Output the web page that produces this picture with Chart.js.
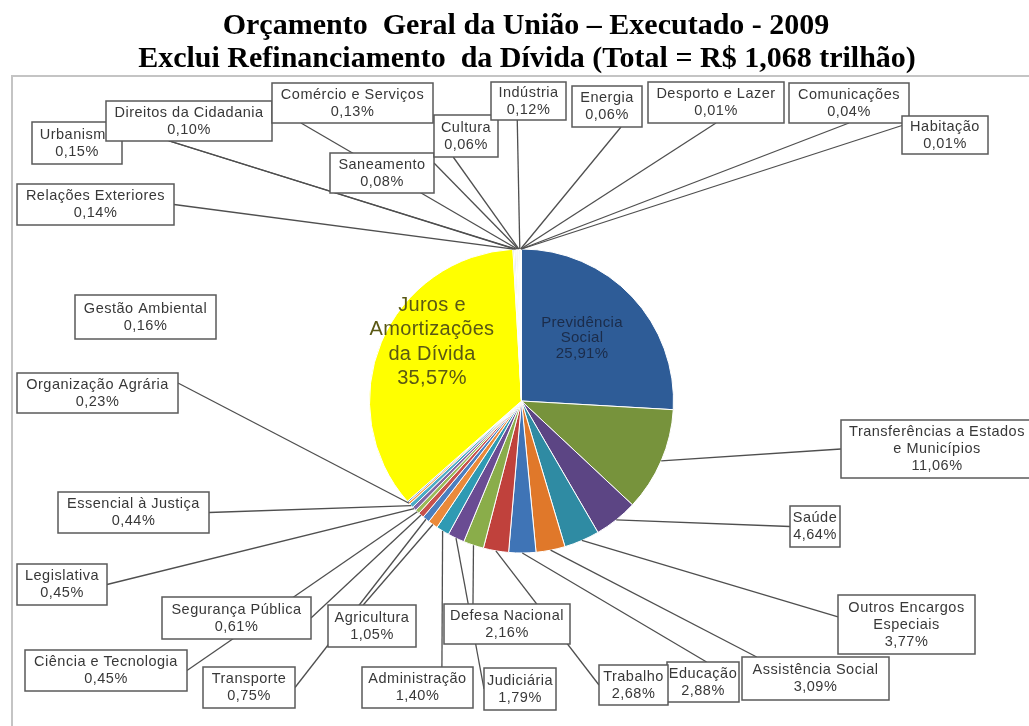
<!DOCTYPE html>
<html>
<head>
<meta charset="utf-8">
<script src="https://cdn.jsdelivr.net/npm/chart.js@4/dist/chart.umd.min.js"></script>
<style>
  html, body { margin: 0; padding: 0; background: #fff; }
  canvas { display: block; }
</style>
</head>
<body>
<canvas id="pie" width="1029" height="726"></canvas>
<script>
const titleLines = [
  'Orçamento  Geral da União – Executado - 2009',
  'Exclui Refinanciamento  da Dívida (Total = R$ 1,068 trilhão)'
];

// slices in drawing order, clockwise from 12 o'clock
const categories = [
  'Previdência Social', 'Transferências a Estados e Municípios', 'Saúde', 'Outros Encargos Especiais',
  'Assistência Social', 'Educação', 'Trabalho', 'Defesa Nacional', 'Judiciária', 'Administração',
  'Agricultura', 'Transporte', 'Segurança Pública', 'Ciência e Tecnologia', 'Legislativa',
  'Essencial à Justiça', 'Organização Agrária', 'Gestão Ambiental', 'Juros e Amortizações da Dívida',
  'Relações Exteriores', 'Urbanismo', 'Direitos da Cidadania', 'Comércio e Serviços', 'Saneamento',
  'Cultura', 'Indústria', 'Energia', 'Desporto e Lazer', 'Comunicações', 'Habitação'
];
const shares = [
  25.91, 11.06, 4.64, 3.77,
  3.09, 2.88, 2.68, 2.16, 1.79, 1.40,
  1.05, 0.75, 0.61, 0.45, 0.45,
  0.44, 0.23, 0.16, 35.57,
  0.14, 0.15, 0.10, 0.13, 0.08,
  0.06, 0.12, 0.06, 0.01, 0.04, 0.01
];
const sliceColors = [
  '#2e5c97', '#77933c', '#5c4584', '#2f8ba3',
  '#e0782a', '#3f74b6', '#c0413c', '#8aad4a', '#6a4c93', '#2f9ab3',
  '#ea8a3a', '#4b7fbf', '#c8514d', '#9bbb59', '#8064a2',
  '#4bacc6', '#f79646', '#6d8fc7', '#ffff00',
  '#b9c4d2', '#c9c9c9', '#aab8cc', '#cfcfcf', '#b4c0cf',
  '#c4c4c4', '#b0bccc', '#cccccc', '#bcc6d3', '#c6c6c6', '#b8c2d0'
];
// how each name breaks into lines in its label
const nameLines = [
  ['Previdência', 'Social'], ['Transferências a Estados', 'e Municípios'], ['Saúde'], ['Outros Encargos', 'Especiais'],
  ['Assistência Social'], ['Educação'], ['Trabalho'], ['Defesa Nacional'], ['Judiciária'], ['Administração'],
  ['Agricultura'], ['Transporte'], ['Segurança Pública'], ['Ciência e Tecnologia'], ['Legislativa'],
  ['Essencial à Justiça'], ['Organização Agrária'], ['Gestão Ambiental'], ['Juros e', 'Amortizações', 'da Dívida'],
  ['Relações Exteriores'], ['Urbanismo'], ['Direitos da Cidadania'], ['Comércio e Serviços'], ['Saneamento'],
  ['Cultura'], ['Indústria'], ['Energia'], ['Desporto e Lazer'], ['Comunicações'], ['Habitação']
];

// callout boxes: x, y, w, h, side the leader line leaves from, position along that side
const boxes = [
  null,
  [841, 420, 192, 58, 'l', 0.5],
  [790, 506, 50, 41, 'l', 0.5],
  [838, 595, 137, 59, 'l', 0.37],
  [742, 657, 147, 43, 't', 0.1],
  [667, 662, 72, 40, 't', 0.55],
  [599, 665, 69, 40, 'l', 0.5],
  [444, 604, 126, 40, 't', 0.23],
  [484, 668, 72, 42, 'l', 0.5],
  [362, 667, 111, 41, 't', 0.72],
  [328, 605, 88, 42, 't', 0.4],
  [203, 667, 92, 41, 'r', 0.5],
  [162, 597, 149, 42, 'r', 0.5],
  [25, 650, 162, 41, 'r', 0.5],
  [17, 564, 90, 41, 'r', 0.5],
  [58, 492, 151, 41, 'r', 0.5],
  [17, 373, 161, 40, 'r', 0.25],
  [75, 295, 141, 44, null, 0],
  null,
  [17, 184, 157, 41, 'r', 0.5],
  [32, 122, 90, 42, 'r', 0.1],
  [106, 101, 166, 40, 'b', 0.38],
  [272, 83, 161, 40, 'b', 0.18],
  [330, 153, 104, 40, 'r', 0.25],
  [434, 115, 64, 42, 'b', 0.3],
  [491, 82, 75, 38, 'b', 0.35],
  [572, 86, 70, 41, 'b', 0.7],
  [648, 82, 136, 41, 'b', 0.5],
  [789, 83, 120, 40, 'b', 0.5],
  [902, 116, 86, 38, 'l', 0.25]
];
// labels printed inside their slice: index -> centre x, centre y, font size, line gap, colour
const insideLabels = {
  0:  [582, 338, 15, 15.5, '#1b2c4a'],
  18: [432, 342, 20, 24.5, '#5a5814']
};

const pct = v => v.toFixed(2).replace('.', ',') + '%';
const SANS = '"Liberation Sans", Arial, sans-serif';

function anchorOf(b) {
  const [x, y, w, h, side, f] = b;
  if (side === 'l') return [x, y + h * f];
  if (side === 'r') return [x + w, y + h * f];
  if (side === 't') return [x + w * f, y];
  return [x + w * f, y + h];
}

const callouts = {
  id: 'callouts',
  beforeDraw(chart) {
    const ctx = chart.ctx;
    ctx.save();
    // frame
    ctx.strokeStyle = '#c4c4c4';
    ctx.lineWidth = 2;
    ctx.beginPath();
    ctx.moveTo(12, 726); ctx.lineTo(12, 76); ctx.lineTo(1029, 76);
    ctx.stroke();
    // title
    ctx.fillStyle = '#000';
    ctx.font = 'bold 30px "Liberation Serif", "Times New Roman", serif';
    ctx.textAlign = 'center';
    ctx.textBaseline = 'alphabetic';
    ctx.fillText(titleLines[0], 526, 34);
    ctx.fillText(titleLines[1], 527, 67);
    ctx.restore();
  },
  afterDatasetsDraw(chart) {
    const ctx = chart.ctx;
    const arcs = chart.getDatasetMeta(0).data;
    ctx.save();

    // leader lines first, boxes cover them
    ctx.strokeStyle = '#4f4f4f';
    ctx.lineWidth = 1.3;
    arcs.forEach((arc, i) => {
      const b = boxes[i];
      if (!b || !b[4]) return;
      const p = arc.getProps(['x', 'y', 'startAngle', 'endAngle', 'outerRadius'], true);
      const a = (p.startAngle + p.endAngle) / 2;
      const [ax, ay] = anchorOf(b);
      ctx.beginPath();
      ctx.moveTo(ax, ay);
      ctx.lineTo(p.x + Math.cos(a) * p.outerRadius, p.y + Math.sin(a) * p.outerRadius);
      ctx.stroke();
    });

    ctx.textAlign = 'center';
    ctx.textBaseline = 'middle';
    ctx.letterSpacing = '0.5px';
    arcs.forEach((arc, i) => {
      const b = boxes[i];
      if (!b) return;
      const [x, y, w, h] = b;
      ctx.fillStyle = '#fff';
      ctx.fillRect(x, y, w, h);
      ctx.strokeStyle = '#5a5a5a';
      ctx.lineWidth = 1.5;
      ctx.strokeRect(x, y, w, h);
      const lines = [...nameLines[i], pct(shares[i])];
      ctx.font = '14.5px ' + SANS;
      ctx.fillStyle = '#383838';
      lines.forEach((t, k) => {
        ctx.fillText(t, x + w / 2, y + h / 2 + (k - (lines.length - 1) / 2) * 17);
      });
    });

    ctx.letterSpacing = '0.3px';
    Object.keys(insideLabels).forEach(key => {
      const i = +key;
      const [cx, cy, size, gap, color] = insideLabels[key];
      const lines = [...nameLines[i], pct(shares[i])];
      ctx.font = size + 'px ' + SANS;
      ctx.fillStyle = color;
      lines.forEach((t, k) => {
        ctx.fillText(t, cx, cy + (k - (lines.length - 1) / 2) * gap);
      });
    });
    ctx.restore();
  }
};

new Chart(document.getElementById('pie'), {
  type: 'pie',
  data: {
    labels: categories,
    datasets: [{
      data: shares,
      backgroundColor: sliceColors,
      borderColor: '#ffffff',
      borderWidth: 1
    }]
  },
  options: {
    responsive: false,
    animation: false,
    layout: { padding: { left: 369, right: 355, top: 248, bottom: 172 } },
    plugins: {
      legend: { display: false },
      tooltip: { enabled: false },
      title: { display: false }
    }
  },
  plugins: [callouts]
});
</script>
</body>
</html>
